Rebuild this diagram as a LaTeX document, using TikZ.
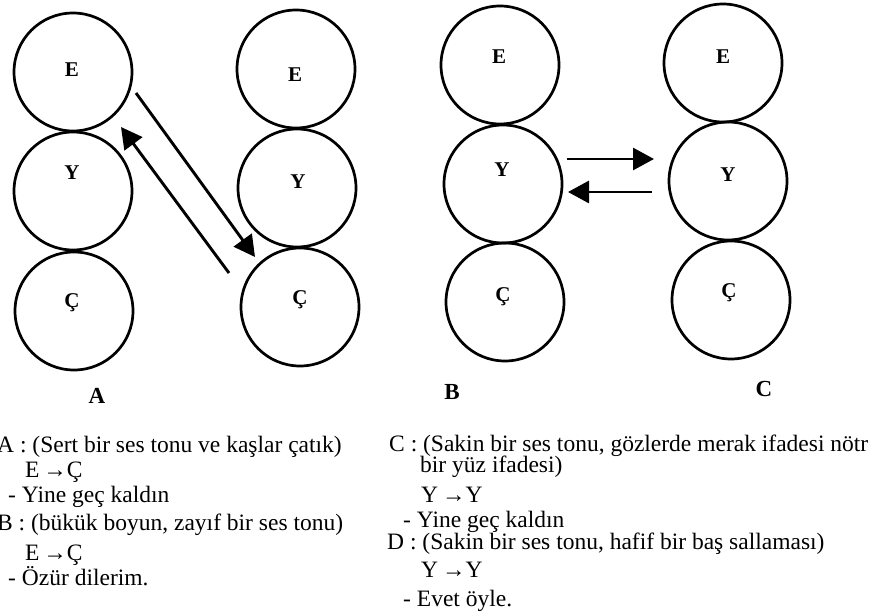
\documentclass[tikz,border=0pt]{standalone}
\usepackage{fontspec}
\setmainfont{Liberation Serif}
\usetikzlibrary{arrows.meta}
\begin{document}
\begin{tikzpicture}[x=1pt,y=-1pt,
  ball/.style={draw, line width=2.7pt, circle, minimum size=118pt, inner sep=0pt},
  lett/.style={font=\fontsize{21}{21}\selectfont\bfseries, inner sep=0pt},
  figlabel/.style={font=\fontsize{23}{23}\selectfont\bfseries, inner sep=0pt},
  txt/.style={font=\fontsize{23.5}{23.5}\selectfont, anchor=base west, inner sep=0pt},
  arr/.style={line width=2.9pt, -{Triangle[length=21pt,width=22pt]}}]
\useasboundingbox (0,0) rectangle (869,612);
% column 1
\node[ball] (aE) at (73,72) {};
\node[ball] (aY) at (73,191) {};
\node[ball] (aC) at (74,311) {};
\node[lett] at (72,70) {E};
\node[lett] at (72,173) {Y};
\node[lett] at (72,303) {Ç};
% column 2
\node[ball] (bE) at (296,69) {};
\node[ball] (bY) at (297,188) {};
\node[ball] (bC) at (300,307) {};
\node[lett] at (295,75) {E};
\node[lett] at (298,182) {Y};
\node[lett] at (300,300) {Ç};
% column 3
\node[ball] (cE) at (500,65) {};
\node[ball] (cY) at (503,184) {};
\node[ball] (cC) at (505,302) {};
\node[lett] at (499,57) {E};
\node[lett] at (502,170) {Y};
\node[lett] at (503,297) {Ç};
% column 4
\node[ball] (dE) at (723,63) {};
\node[ball] (dY) at (728,181) {};
\node[ball] (dC) at (731,300) {};
\node[lett] at (723,57) {E};
\node[lett] at (728,175) {Y};
\node[lett] at (729,293) {Ç};
% arrows
\coordinate (p1) at (136,93);
\coordinate (p2) at (255,257);
\coordinate (q1) at (229,273);
\coordinate (q2) at (121,127);
\draw[arr] (p1) -- (p2);
\draw[arr] (q1) -- (q2);
\coordinate (r1) at (567,159);
\coordinate (r2) at (654,159);
\coordinate (s1) at (652,192);
\coordinate (s2) at (568,192);
\draw[arr] (r1) -- (r2);
\draw[arr] (s1) -- (s2);
% captions
\node[figlabel] (labA) at (97,396) {A};
\node[figlabel] (labB) at (452,392) {B};
\node[figlabel] (labC) at (764,389) {C};
% left text
\node[txt] (t1) at (-3,452) {A : (Sert bir ses tonu ve kaşlar çatık)};
\node[txt] (t2) at (25,477) {E\,→Ç};
\node[txt] (t3) at (8,502) {- Yine geç kaldın};
\node[txt] (t4) at (-3,530) {B : (bükük boyun, zayıf bir ses tonu)};
\node[txt] (t5) at (25,560) {E\,→Ç};
\node[txt] (t6) at (8,585) {- Özür dilerim.};
% right text
\node[txt] (u1) at (389,451) {C : (Sakin bir ses tonu, gözlerde merak ifadesi nötr};
\node[txt] (u2) at (420,472) {bir yüz ifadesi)};
\node[txt] (u3) at (421,502) {Y\,→Y};
\node[txt] (u4) at (403,527) {- Yine geç kaldın};
\node[txt] (u5) at (387,549) {D : (Sakin bir ses tonu, hafif bir baş sallaması)};
\node[txt] (u6) at (421,577) {Y\,→Y};
\node[txt] (u7) at (403,606) {- Evet öyle.};
\end{tikzpicture}
\end{document}
